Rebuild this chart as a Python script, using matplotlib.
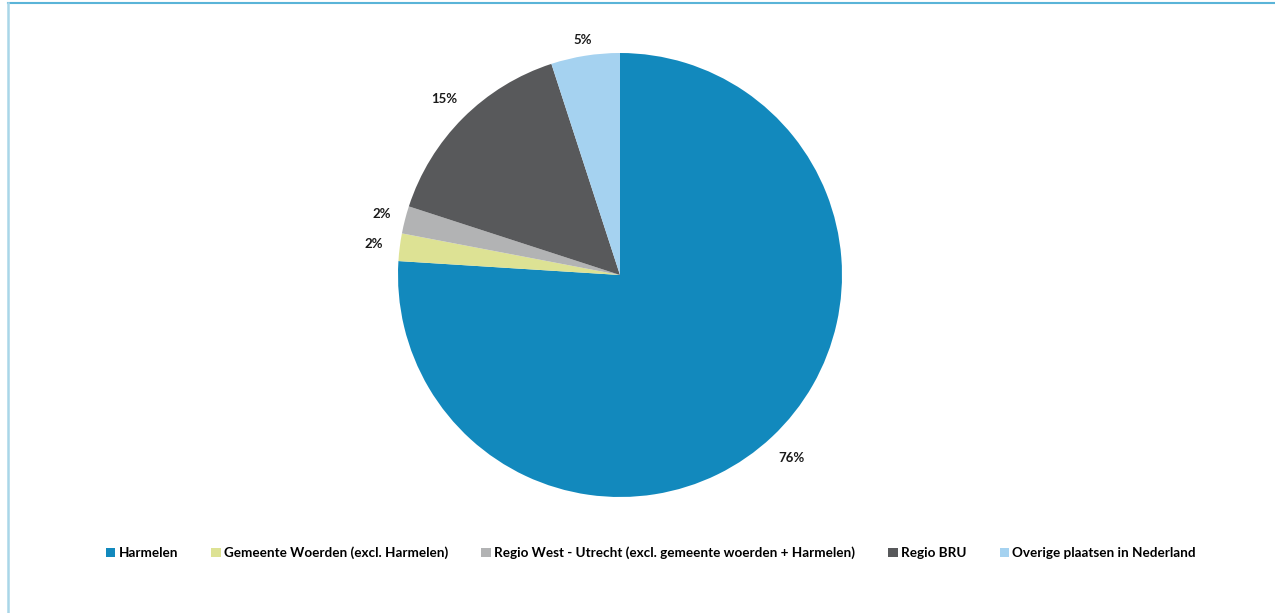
import matplotlib.pyplot as plt
from matplotlib.lines import Line2D
from matplotlib.patches import Patch

categories = ['Harmelen', 'Gemeente Woerden (excl. Harmelen)',
              'Regio West - Utrecht (excl. gemeente woerden + Harmelen)',
              'Regio BRU', 'Overige plaatsen in Nederland']
shares = [76, 2, 2, 15, 5]
colors = ['#1289bd', '#dde294', '#b2b3b4', '#58595b', '#a5d2f0']

plt.rcParams['font.family'] = ['Lato', 'DejaVu Sans']

W, H = 1275, 613
fig = plt.figure(figsize=(W / 100, H / 100), dpi=100)

# pie axes placed in pixel terms: centre (620, 275), radius 222
cx, cy, r = 620, 275, 222
ax = fig.add_axes([(cx - r) / W, (H - cy - r) / H, 2 * r / W, 2 * r / H])
wedges, texts, autotexts = ax.pie(
    shares, colors=colors, startangle=90, counterclock=False,
    radius=1, autopct='%1.0f%%', pctdistance=1.13,
    wedgeprops=dict(linewidth=0))
# small per-label nudges towards the pie (Excel puts labels by their edge)
label_dist = [1.13, 1.12, 1.11, 1.12, 1.07]
for t, d in zip(autotexts, label_dist):
    x, y = t.get_position()
    t.set_position((x * d / 1.13, y * d / 1.13))
    t.set_fontsize(9.5)
    t.set_fontweight('bold')
    t.set_color('#1a1a1a')
ax.set_xlim(-1, 1)
ax.set_ylim(-1, 1)
ax.set_aspect('equal')
ax.axis('off')

handles = [Patch(facecolor=c, edgecolor='none') for c in colors]
fig.legend(handles, categories, loc='center', bbox_to_anchor=(651 / W, 1 - 553 / H),
           ncol=5, frameon=False, handlelength=0.7, handleheight=0.7,
           handletextpad=0.25, columnspacing=2.45,
           prop={'weight': 'bold', 'size': 9.7})

# light blue frame on top and left
fig.add_artist(Line2D([8 / W, 1], [1 - 2.5 / H, 1 - 2.5 / H], color='#5ab4d8', lw=1.5))
fig.add_artist(Line2D([8 / W, 8 / W], [0, 1 - 2.5 / H], color='#a9d6e8', lw=1.8))

fig.savefig('out.png', dpi=100)
